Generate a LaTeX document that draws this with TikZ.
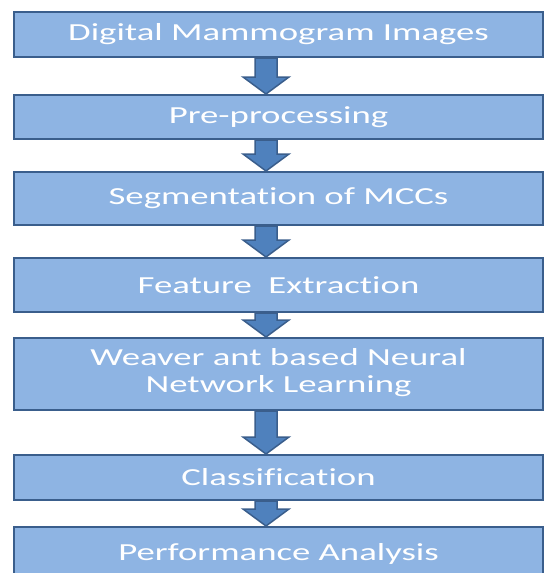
\documentclass[tikz,border=0pt]{standalone}
\usepackage{graphicx}
\usepackage{fontspec}
\setmainfont{Carlito}[Ligatures=NoCommon]
\usetikzlibrary{calc}

\definecolor{boxfill}{RGB}{142,180,227}
\definecolor{boxline}{RGB}{58,94,140}
\definecolor{arrowfill}{RGB}{79,129,189}

\newcommand{\wide}[1]{\raisebox{-2pt}{\scalebox{1.5}[1]{#1}}}
\newcommand{\StepArrow}[2]{%
  \draw[steparrow] let \p1=([xshift=-12.5pt]#1.south), \p2=([xshift=-12.5pt]#2.north) in
    (\x1-11pt,\y1) -- (\x1+11pt,\y1) -- (\x1+11pt,\y2+17pt) -- (\x1+23pt,\y2+17pt)
    -- (\x2,\y2) -- (\x1-23pt,\y2+17pt) -- (\x1-11pt,\y2+17pt) -- cycle;}

\tikzset{
  stepbox/.style={draw=boxline, line width=2pt, fill=boxfill, text=white,
    minimum width=529pt, inner sep=0pt, font=\fontsize{24.5}{27}\selectfont},
  steparrow/.style={draw=boxline, line width=1.5pt, fill=arrowfill, line join=miter}
}

\begin{document}
\begin{tikzpicture}[x=1pt, y=-1pt]
    \useasboundingbox (0,0) rectangle (545,573);
    \clip (0,0) rectangle (545,573);
    \node[stepbox, minimum height=45pt] (images)   at (278.5,34.5)  {\wide{Digital Mammogram Images}};
    \node[stepbox, minimum height=44pt] (preproc)  at (278.5,117)   {\wide{Pre-processing}};
    \node[stepbox, minimum height=53pt] (segment)  at (278.5,198.5) {\wide{Segmentation of MCCs}};
    \node[stepbox, minimum height=54pt] (feature)  at (278.5,285)   {\wide{Feature\ \ Extraction}};
    \node[stepbox, minimum height=72pt] (learning) at (278.5,374)
        {\wide{\begin{tabular}{@{}c@{}}Weaver ant based Neural\\Network Learning\end{tabular}}};
    \node[stepbox, minimum height=45pt] (classify) at (278.5,477.5) {\wide{Classification}};
    \node[stepbox, minimum height=53pt] (perform)  at (278.5,553.5) {\wide{Performance Analysis}};
    \StepArrow{images}{preproc}
    \StepArrow{preproc}{segment}
    \StepArrow{segment}{feature}
    \StepArrow{feature}{learning}
    \StepArrow{learning}{classify}
    \StepArrow{classify}{perform}
\end{tikzpicture}
\end{document}
